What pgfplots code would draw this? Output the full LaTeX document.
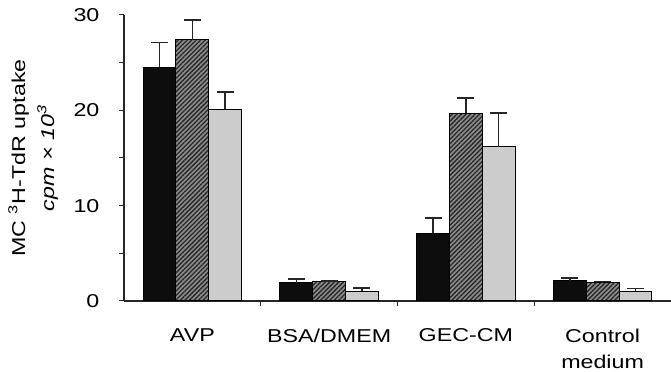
\documentclass[border=0pt]{standalone}
\usepackage{fontspec}
\setmainfont{Liberation Sans}[FakeStretch=1.25]
\usepackage{pgfplots}
\usepackage{pgfplotstable}
\pgfplotsset{compat=1.18}
\usetikzlibrary{patterns.meta}

\pgfplotstableread{
x   a     ae    b     be    c     ce
0   24.5  2.6   27.4  2.1   20.1  1.8
1   1.9   0.4   2.0   0.1   1.0   0.35
2   7.1   1.6   19.7  1.6   16.2  3.5
3   2.1   0.3   1.9   0.15  1.0   0.3
}\datatable

\begin{document}
\fontsize{9.3}{12.5}\selectfont
\begin{tikzpicture}
\begin{axis}[
  name=ax,
  scale only axis, width=273.5pt, height=143pt,
  xmin=-0.5, xmax=3.5, ymin=0, ymax=30,
  axis x line*=bottom, axis y line*=left,
  axis line style={line width=0.6pt, black!85},
  ytick={0,10,20,30}, minor ytick={5,15,25},
  tick align=outside, major tick length=2.5pt, minor tick length=2.5pt,
  tick style={line width=0.5pt, black!85},
  /pgf/number format/assume math mode=true,
  xtick={0.5,1.5,2.5}, xticklabels={},
  extra x ticks={0,1,2,3},
  extra x tick labels={AVP,BSA/DMEM,GEC-CM,{Control\\medium}},
  extra x tick style={major tick length=0pt, xticklabel style={align=center, yshift=-10.5pt, font=\fontsize{9.3}{13}\selectfont}},
  ylabel={MC \textsuperscript{3}H-TdR uptake\\\textit{cpm × 10\textsuperscript{3}}},
  ylabel style={at={(axis description cs:-0.166,0.5)}, anchor=center, align=center, font=\fontsize{9.3}{14.5}\selectfont},
  yticklabel style={xshift=-6.5pt, font=\fontsize{9.3}{12.5}\selectfont},
  error bars/y dir=plus, error bars/y explicit,
  error bars/error bar style={line width=0.8pt, black!85},
  error bars/error mark options={rotate=90, mark size=4.25pt, line width=0.8pt, black!85},
]
\addplot[ybar, bar width=0.24, bar shift=0, fill=black!95, draw=black, line width=0.5pt]
  table[x expr=\thisrow{x}-0.24, y=a, y error=ae] {\datatable};
\addplot[ybar, bar width=0.24, bar shift=0, fill=black!45, draw=black, line width=0.5pt,
  postaction={pattern={Lines[angle=45,distance=1.6pt,line width=0.65pt]}, pattern color=black!85}]
  table[x=x, y=b, y error=be] {\datatable};
\addplot[ybar, bar width=0.24, bar shift=0, fill=black!20, draw=black, line width=0.5pt]
  table[x expr=\thisrow{x}+0.24, y=c, y error=ce] {\datatable};
\end{axis}
\pgfresetboundingbox
\useasboundingbox ([xshift=-62pt,yshift=-35.5pt]ax.south west) rectangle ([yshift=7.5pt]ax.north east);
\end{tikzpicture}
\end{document}
